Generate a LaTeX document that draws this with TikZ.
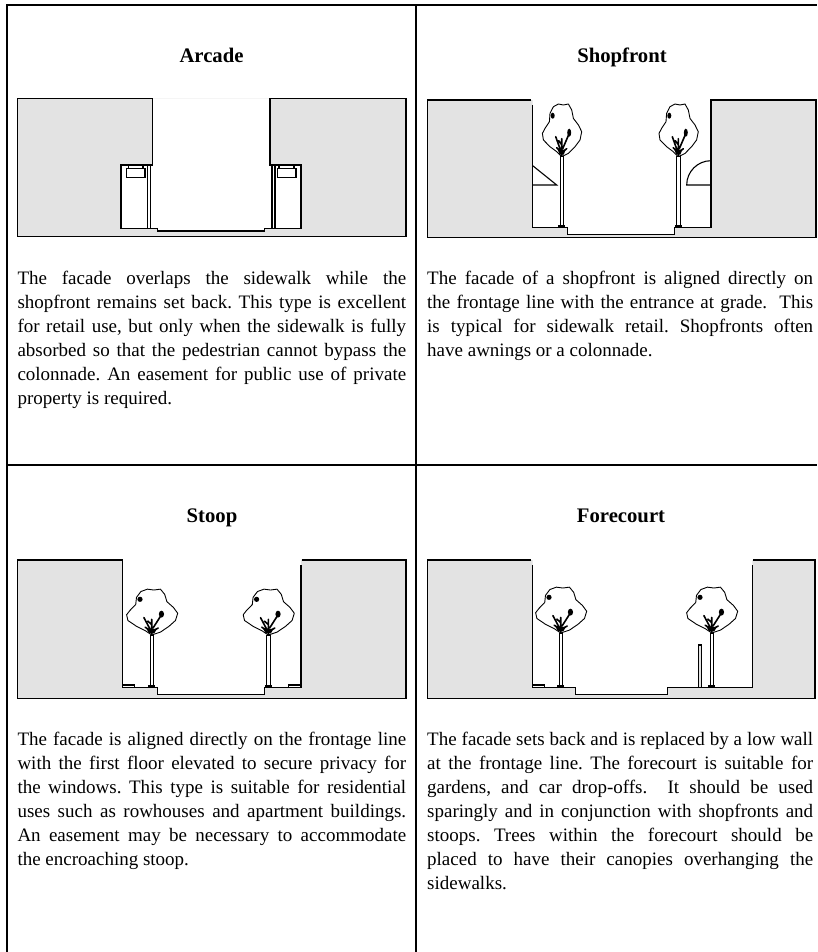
\documentclass[tikz,border=0pt]{standalone}
\usepackage{fontspec}
\setmainfont{Liberation Serif}
\usetikzlibrary{positioning}

\definecolor{bldggray}{RGB}{227,227,227}
\tolerance=9999
\hyphenpenalty=10000
\frenchspacing

\tikzset{
  cell/.style={line width=1.6pt},
  outline/.style={line width=1.1pt},
  trunk/.style={fill=white, draw=black, line width=0.8pt},
  heading/.style={font=\fontsize{20.7}{24}\selectfont\bfseries, inner sep=0pt, anchor=base},
  para/.style={text width=#1, align=justify, inner sep=0pt, anchor=north west,
    font=\fontsize{19}{24}\selectfont},
  para/.default=388.7pt,
  % street tree: {canopy x scale}{canopy y scale}{trunk length}
  pics/streettree/.style n args={3}{code={
    \begin{scope}[xscale=#1, yscale=#2]
      \draw[line width=0.9pt, line join=round, fill=white]
        (0,0) -- (-5,-5) -- (-11.7,-10) -- (-18.3,-16.7) -- (-19.3,-23.3)
        -- (-16.7,-28.3) -- (-12.3,-35) -- (-11.7,-43.3) -- (-8.3,-50)
        -- (-3.3,-52.7) -- (1.7,-51.7) -- (6.7,-52.7) -- (10,-46.7)
        -- (11.7,-38.3) -- (16.7,-31.7) -- (20,-25) -- (18.3,-16.7)
        -- (13.3,-10) -- (6.7,-3.3) -- cycle;
      % branches
      \draw[line width=1.6pt, line cap=round]
        (0,0) -- (0,-18) (0,-4) -- (-5,-9) (0,-4) -- (5,-8)
        (-1,-6) -- (-6,-20) (1,-8) -- (7,-22) (0,-12) -- (-3,-16);
      \fill (7.5,-24) ellipse (2pt and 4pt);
      \fill (-9,-41) ellipse (2pt and 3pt);
      \fill (-2,-2) -- (2,-2) -- (4,-7) -- (-4,-7) -- cycle;
    \end{scope}
    \draw[trunk] (-1.6,0) rectangle (1.6,#3);
    \fill (-3.5,#3-2.5) rectangle (3.5,#3);
  }}
}

\begin{document}
\begin{tikzpicture}[x=1pt, y=-1pt]
\useasboundingbox (0,0) rectangle (817,952);

% table rules
\draw[cell] (7,952) -- (7,5) -- (817,5);
\draw[cell] (416,5) -- (416,952);
\draw[cell] (7,465) -- (817,465);

% ---- arcade
\node[heading] (arcade) at (211.5,62.5) {Arcade};
\fill[bldggray] (17.3,98.3) rectangle (406,236.7);
\fill[white] (152.7,98.3) -- (152.7,165) -- (121,165) -- (121,228.3) -- (157.3,228.3)
  -- (157.3,231) -- (264.3,231) -- (264.3,228.3) -- (301,228.3) -- (301,165)
  -- (270,165) -- (270,98.3) -- cycle;
\draw[outline] (152.7,98.3) -- (17.3,98.3) -- (17.3,236.7) -- (406,236.7) -- (406,98.3) -- (270,98.3);
\draw[outline] (152.7,98.3) -- (152.7,165) -- (121,165) -- (121,228.3) -- (157.3,228.3)
  -- (157.3,231) -- (264.3,231) -- (264.3,228.3) -- (301,228.3) -- (301,165)
  -- (270,165) -- (270,98.3);
\draw[outline] (147.7,165) -- (147.7,228.3) (150.7,165) -- (150.7,228.3);
\draw[outline] (272,165) -- (272,228.3) (275,165) -- (275,228.3);
\draw[outline] (126.7,168.3) rectangle (145,177.3) (128.3,165) rectangle (143,168.3);
\draw[outline] (277.3,168.3) rectangle (296,177.3) (279,165) rectangle (294,168.3);
\node[para] (arcadetext) at (17.3,271) {The facade overlaps the sidewalk while the\linebreak
  shopfront remains set back. This type is excellent\linebreak
  for retail use, but only when the sidewalk is fully\linebreak
  absorbed so that the pedestrian cannot bypass the\linebreak
  colonnade. An easement for public use of private\linebreak
  property is required.};

% ---- shopfront
\node[heading] (shopfront) at (622,62.5) {Shopfront};
\fill[bldggray] (427.3,100) rectangle (816,237.3);
\fill[white] (532.7,100) -- (532.7,227.7) -- (567.3,227.7) -- (567.3,234.3) -- (674.3,234.3)
  -- (674.3,227.7) -- (711,227.7) -- (711,100) -- cycle;
\draw[outline] (531,100) -- (427.3,100) -- (427.3,237.3) -- (816,237.3) -- (816,100) -- (711,100)
  -- (711,227.7) -- (674.3,227.7) -- (674.3,234.3) -- (567.3,234.3) -- (567.3,227.7)
  -- (532.7,227.7) -- (532.7,105);
\draw[outline] (532.7,165.7) -- (556.7,185) -- (532.7,185);
\draw[outline] (711,185) -- (686.7,185) .. controls (686.7,171.6) and (697.6,160.7) .. (711,160.7);
\pic at (561.7,156.7) {streettree={1}{1}{71}};
\pic at (678.3,156.7) {streettree={1}{1}{71}};
\node[para=386pt] (shopfronttext) at (427,271) {The facade of a shopfront is aligned directly on\linebreak
  the frontage line with the entrance at grade.\ \ This\linebreak
  is typical for sidewalk retail. Shopfronts often\linebreak
  have awnings or a colonnade.};

% ---- stoop
\node[heading] (stoop) at (212,522) {Stoop};
\fill[bldggray] (17.3,560) rectangle (406,698.3);
\fill[white] (122.7,560) -- (122.7,687.3) -- (157.3,687.3) -- (157.3,694.3) -- (264.3,694.3)
  -- (264.3,687.3) -- (301,687.3) -- (301,560) -- cycle;
\draw[outline] (17.3,560) -- (122.7,560) -- (122.7,687.3) -- (157.3,687.3) -- (157.3,694.3)
  -- (264.3,694.3) -- (264.3,687.3) -- (301,687.3) -- (301,565);
\draw[outline] (301.7,560) -- (406,560) -- (406,698.3) -- (17.3,698.3) -- (17.3,560);
\draw[outline] (122.7,685) rectangle (134.3,687.3) (288.3,685) rectangle (301,687.3);
\pic at (151.7,635) {streettree={1.3}{0.87}{52.3}};
\pic at (268.3,635) {streettree={1.3}{0.87}{52.3}};
\node[para] (stooptext) at (17.3,732) {The facade is aligned directly on the frontage line\linebreak
  with the first floor elevated to secure privacy for\linebreak
  the windows. This type is suitable for residential\linebreak
  uses such as rowhouses and apartment buildings.\linebreak
  An easement may be necessary to accommodate\linebreak
  the encroaching stoop.};

% ---- forecourt
\node[heading] (forecourt) at (621,522) {Forecourt};
\fill[bldggray] (427.3,560) rectangle (815,698.3);
\fill[white] (532.7,560) -- (532.7,687.3) -- (575.7,687.3) -- (575.7,694.3) -- (667.3,694.3)
  -- (667.3,687.3) -- (752.3,687.3) -- (752.3,560) -- cycle;
\draw[outline] (531,560) -- (427.3,560) -- (427.3,698.3) -- (815,698.3) -- (815,560) -- (753.3,560);
\draw[outline] (532.7,565) -- (532.7,687.3) -- (575.7,687.3) -- (575.7,694.3) -- (667.3,694.3)
  -- (667.3,687.3) -- (752.3,687.3) -- (752.3,565);
\draw[outline] (532.7,685) rectangle (544.3,687.3);
\draw[outline, fill=bldggray] (698.3,645) rectangle (701.7,687.3);
\pic at (560.7,633) {streettree={1.3}{0.87}{54.3}};
\pic at (711.7,633) {streettree={1.3}{0.87}{54.3}};
\node[para=386pt] (forecourttext) at (427,732) {The facade sets back and is replaced by a low wall\linebreak
  at the frontage line. The forecourt is suitable for\linebreak
  gardens, and car drop-offs.\ \ It should be used\linebreak
  sparingly and in conjunction with shopfronts and\linebreak
  stoops. Trees within the forecourt should be\linebreak
  placed to have their canopies overhanging the\linebreak
  sidewalks.};
\end{tikzpicture}
\end{document}
